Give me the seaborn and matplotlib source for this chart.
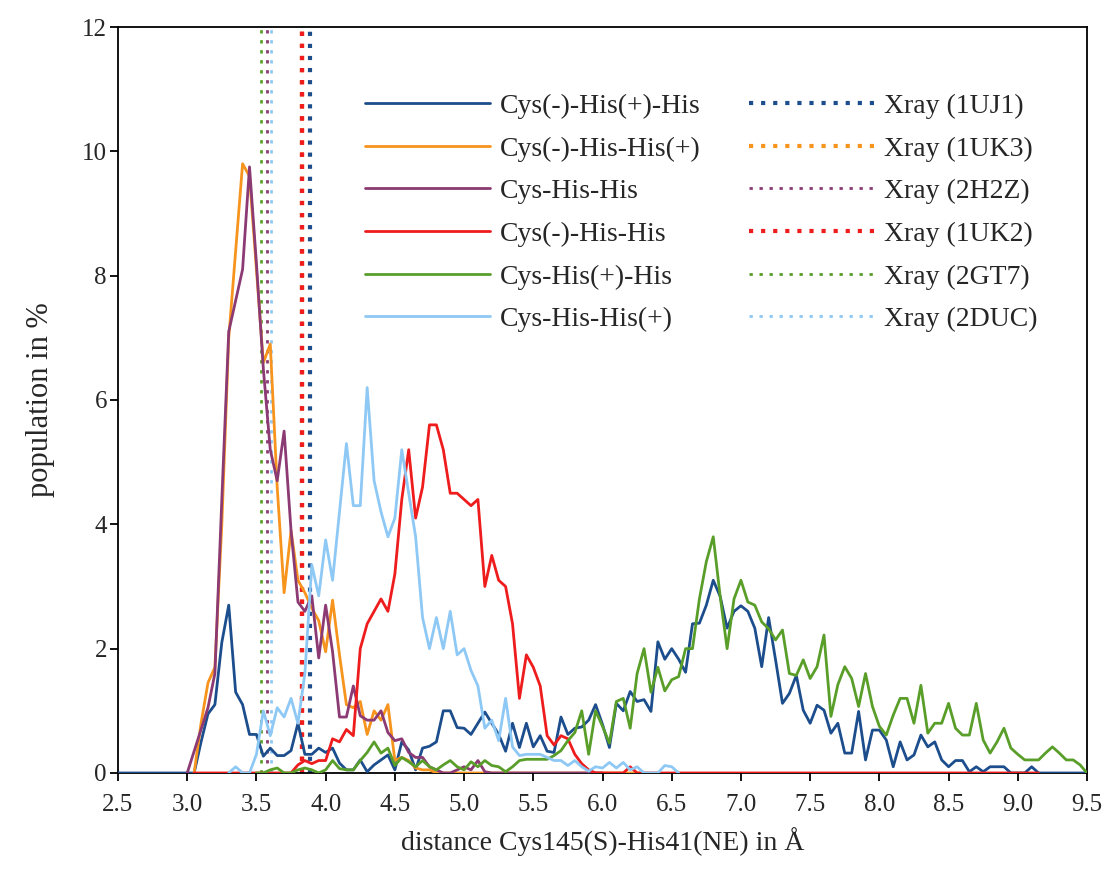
import numpy as np
import pandas as pd
import seaborn as sns
import matplotlib.pyplot as plt
from matplotlib.lines import Line2D

# bin width of the distance histograms (Angstrom)
STEP = 0.05

# population (%) per bin, every list starts at its own first bin
cys_m_hisp_his_start = 2.50
cys_m_hisp_his = [
    0, 0, 0, 0, 0, 0, 0, 0, 0, 0,
    0, 0, 0.5, 0.95, 1.1, 2.1, 2.7, 1.3, 1.1, 0.62,
    0.62, 0.27, 0.4, 0.28, 0.28, 0.36, 0.8, 0.3, 0.3, 0.4,
    0.33, 0.4, 0.16, 0.05, 0.05, 0.21, 0.02, 0.13, 0.21, 0.29,
    0.05, 0.5, 0.37, 0.05, 0.4, 0.43, 0.5, 1.0, 1.0, 0.73,
    0.72, 0.62, 0.8, 0.98, 0.8, 0.62, 0.35, 0.8, 0.41, 0.8,
    0.42, 0.6, 0.35, 0.33, 0.9, 0.62, 0.72, 0.74, 0.85, 1.1,
    0.78, 0.41, 1.12, 1.0, 1.31, 1.15, 1.18, 0.99, 2.11, 1.83,
    2.0, 1.83, 1.62, 2.4, 2.41, 2.7, 3.1, 2.84, 2.33, 2.6,
    2.69, 2.6, 2.33, 1.71, 2.5, 1.82, 1.12, 1.28, 1.57, 1.01,
    0.8, 1.09, 1.01, 0.64, 0.8, 0.32, 0.32, 0.99, 0.21, 0.69,
    0.69, 0.53, 0.1, 0.5, 0.21, 0.29, 0.61, 0.42, 0.5, 0.21,
    0.1, 0.2, 0.2, 0.02, 0.1, 0.02, 0.1, 0.1, 0.1, 0,
    0, 0, 0.1, 0, 0, 0, 0, 0, 0, 0,
    0,
]

cys_m_his_hisp_start = 3.05
cys_m_his_hisp = [
    0, 0.8, 1.45, 1.7, 4.0, 7.0, 8.4, 9.8, 9.6,
    8.1, 6.6, 6.9, 4.6, 2.9, 3.9, 3.1, 2.9, 2.65, 2.45,
    1.95, 2.78, 1.9, 1.1, 1.05, 1.15, 0.62, 1.0, 0.85, 1.1,
    0.2, 0.25, 0.2, 0.08, 0.05, 0.05, 0, 0, 0, 0,
    0, 0, 0, 0, 0, 0, 0, 0, 0, 0,
    0, 0, 0, 0, 0, 0, 0, 0, 0, 0,
    0, 0, 0, 0, 0, 0, 0,
]

cys_his_his_start = 3.00
cys_his_his = [
    0, 0.35, 0.7, 1.05, 1.6, 4.4, 7.1, 7.6, 8.1, 9.75,
    8.2, 6.5, 5.2, 4.7, 5.5, 3.9, 2.75, 2.6, 2.85, 1.85,
    2.7, 1.95, 0.9, 0.9, 1.4, 0.92, 0.85, 0.85, 1.0, 0.65,
    0.52, 0.55, 0.33, 0.25, 0.25, 0.1, 0.05, 0, 0, 0.05,
    0.1, 0.05, 0.2, 0.02, 0, 0, 0, 0, 0, 0,
    0, 0, 0, 0, 0, 0, 0, 0, 0, 0,
    0,
]

cys_m_his_his_start = 3.05
cys_m_his_his = [
    0, 0, 0, 0, 0, 0, 0, 0, 0,
    0, 0, 0, 0, 0, 0, 0.13, 0.2, 0.15, 0.2,
    0.2, 0.55, 0.5, 0.7, 0.6, 2.0, 2.4, 2.6, 2.8, 2.6,
    3.2, 4.4, 5.2, 4.1, 4.6, 5.6, 5.6, 5.2, 4.5, 4.5,
    4.4, 4.3, 4.4, 3.0, 3.5, 3.1, 3.0, 2.4, 1.2, 1.9,
    1.7, 1.4, 0.6, 0.45, 0.6, 0.55, 0.3, 0.15, 0.05, 0,
    0, 0, 0, 0, 0.1, 0, 0, 0, 0, 0,
    0, 0, 0, 0, 0, 0, 0, 0, 0, 0,
    0, 0, 0, 0, 0, 0, 0, 0, 0, 0,
    0, 0, 0, 0, 0, 0, 0, 0, 0, 0,
    0, 0, 0, 0, 0, 0, 0, 0, 0, 0,
    0, 0, 0, 0, 0, 0, 0, 0, 0, 0,
    0, 0, 0, 0,
]

cys_hisp_his_start = 3.50
cys_hisp_his = [
    0, 0, 0.05, 0.08, 0, 0, 0.05, 0.08, 0.05, 0,
    0.05, 0.2, 0.07, 0.05, 0.05, 0.2, 0.33, 0.5, 0.32, 0.4,
    0.12, 0.25, 0.18, 0.1, 0.2, 0.1, 0.05, 0.13, 0.2, 0.1,
    0.05, 0.18, 0.1, 0.2, 0.12, 0.1, 0.02, 0.1, 0.2, 0.22,
    0.22, 0.22, 0.22, 0.28, 0.36, 0.52, 0.65, 1.0, 0.3, 1.0,
    0.75, 0.48, 1.15, 1.2, 0.72, 1.6, 2.0, 1.3, 1.7, 1.32,
    1.5, 1.55, 2.0, 2.0, 2.8, 3.4, 3.8, 2.84, 2.0, 2.8,
    3.1, 2.75, 2.7, 2.43, 2.32, 2.14, 2.3, 1.6, 1.57, 1.82,
    1.52, 1.71, 2.22, 0.91, 1.42, 1.71, 1.52, 1.07, 1.6, 1.07,
    0.75, 0.61, 0.93, 1.2, 1.2, 0.8, 1.41, 0.64, 0.8, 0.8,
    1.12, 0.72, 0.61, 0.61, 1.12, 0.53, 0.32, 0.5, 0.72, 0.4,
    0.3, 0.21, 0.21, 0.21, 0.32, 0.42, 0.32, 0.21, 0.21, 0.13,
    0,
]

cys_his_hisp_start = 3.30
cys_his_hisp = [
    0, 0.1, 0, 0,
    0.3, 1.0, 0.6, 1.05, 0.9, 1.2, 0.8, 1.6, 3.35, 2.85,
    3.75, 3.1, 4.2, 5.3, 4.3, 4.3, 6.2, 4.7, 4.2, 3.8,
    4.1, 5.2, 4.5, 3.8, 2.5, 2.0, 2.5, 2.0, 2.6, 1.9,
    2.0, 1.65, 1.4, 0.72, 0.85, 0.52, 1.2, 0.42, 0.28, 0.3,
    0.3, 0.3, 0.25, 0.2, 0.2, 0.12, 0.2, 0.1, 0.03, 0.1,
    0.08, 0.17, 0.08, 0.17, 0.05, 0.1, 0, 0, 0, 0.12,
    0.1, 0,
]

states = ["Cys(-)-His(+)-His", "Cys(-)-His-His(+)", "Cys-His-His",
          "Cys(-)-His-His", "Cys-His(+)-His", "Cys-His-His(+)"]
colors = ["#1c4d8c", "#f7941d", "#8b3a73", "#ee1c1c", "#5a9e2a", "#8ec8f5"]

# crystal structure distances (Angstrom)
xray_labels = ["Xray (1UJ1)", "Xray (1UK3)", "Xray (2H2Z)",
               "Xray (1UK2)", "Xray (2GT7)", "Xray (2DUC)"]
xray_dist = [3.89, 3.83, 3.575, 3.83, 3.535, 3.605]

series = [
    (cys_m_hisp_his_start, cys_m_hisp_his),
    (cys_m_his_hisp_start, cys_m_his_hisp),
    (cys_his_his_start, cys_his_his),
    (cys_m_his_his_start, cys_m_his_his),
    (cys_hisp_his_start, cys_hisp_his),
    (cys_his_hisp_start, cys_his_hisp),
]

frames = []
for name, (start, vals) in zip(states, series):
    d = np.round(start + STEP * np.arange(len(vals)), 2)
    frames.append(pd.DataFrame({"distance": d, "population": vals, "state": name}))
df = pd.concat(frames, ignore_index=True)

sns.set_theme(style="ticks")
plt.rcParams["font.family"] = ["Liberation Serif", "DejaVu Serif"]

fig = plt.figure(figsize=(11.1, 8.83), dpi=100)
ax = fig.add_axes([0.1063, 0.1246, 0.873, 0.8448])

# dotted xray markers go under the curves
thick = {"Xray (1UJ1)", "Xray (1UK3)", "Xray (1UK2)"}
xray_handles = []
for lab, xd, col in zip(xray_labels, xray_dist, colors):
    if lab in thick:
        lw, dash = 3.0, (0, (1, 1.9))
    else:
        lw, dash = 2.0, (0, (1.2, 2.4))
    ax.axvline(xd, color=col, lw=lw, linestyle=dash, zorder=1)
    xray_handles.append(Line2D([], [], color=col, lw=lw, linestyle=dash))
# keep the red 1UK2 line over the orange 1UK3
ax.axvline(xray_dist[3], color=colors[3], lw=3.0, linestyle=(0, (1, 1.9)), zorder=1.5)

sns.lineplot(data=df, x="distance", y="population", hue="state",
             hue_order=states, palette=dict(zip(states, colors)),
             estimator=None, linewidth=2.0, legend=False, ax=ax, zorder=3)

ax.set_xlim(2.5, 9.5)
ax.set_ylim(0, 12)
ax.set_xticks(np.arange(2.5, 9.51, 0.5))
ax.set_xticklabels([f"{v:.1f}" for v in np.arange(2.5, 9.51, 0.5)])
ax.set_yticks(range(0, 13, 2))
ax.tick_params(axis="both", direction="out", length=6, width=1.3,
               labelsize=18, color="black")
ax.tick_params(axis="x", pad=9)
ax.tick_params(axis="y", pad=2)
for sp in ax.spines.values():
    sp.set_color("black")
    sp.set_linewidth(1.3)

ax.set_xlabel("distance Cys145(S)-His41(NE) in Å", fontsize=20, labelpad=8)
ax.set_ylabel("population in %", fontsize=22, labelpad=19)

solid_handles = [Line2D([], [], color=c, lw=2.0) for c in colors]
ax.legend(solid_handles + xray_handles, states + xray_labels, ncol=2,
          loc="upper left", bbox_to_anchor=(0.255, 0.911), frameon=False,
          fontsize=20, handlelength=4.5, handletextpad=0.36,
          columnspacing=1.75, labelspacing=0.62, borderpad=0, borderaxespad=0)

fig.savefig("out.png", dpi=100)
